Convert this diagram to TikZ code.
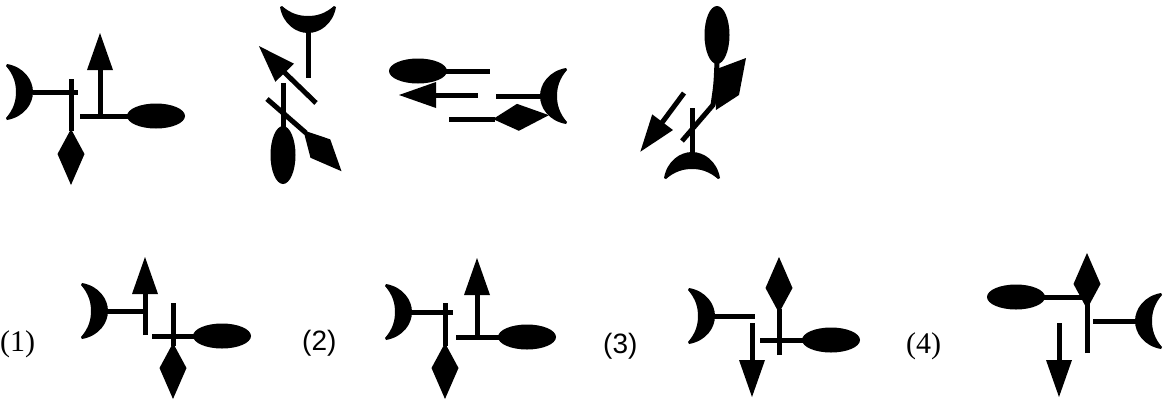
\documentclass[tikz,border=0pt]{standalone}
\usepackage{fontspec}
\usepackage{tikz}
\newfontfamily\labelsans{Liberation Sans}
\newfontfamily\labelserif{Liberation Serif}

\begin{document}
\begin{tikzpicture}[
    x=1pt, y=-1pt,
    stick/.style={line width=5pt},
    moon/.pic={
      \fill (26,-28) .. controls (9,-25) and (0,-12) .. (0,0)
        .. controls (0,12) and (9,25) .. (26,28)
        .. controls (27,27) .. (27,26)
        .. controls (19,17) and (17,8) .. (17,0)
        .. controls (17,-8) and (19,-17) .. (27,-26)
        .. controls (27,-27) .. (26,-28) -- cycle;
    },
    head/.pic={\fill (-1,-13) -- (36,0) -- (-1,13) -- cycle;},
    kite/.pic={\fill (-1,0) -- (24,-13.5) -- (55,0) -- (24,13.5) -- cycle;},
    oval/.pic={\fill (29,0) ellipse [x radius=29, y radius=12.5];},
    every node/.style={
      inner sep=0pt,
      anchor=base west,
      font=\fontsize{28}{32}\selectfont
    }
]
  \useasboundingbox (0,0) rectangle (1165,405);

  % the given figure and its three turned copies
  \draw[stick] (33,92) -- (78,92);
  \draw[stick] (71,79) -- (71,131);
  \pic[rotate=180] at (33,92) {moon};
  \pic[rotate=270] at (71,130) {kite};
  \draw[stick] (100,116) -- (100,68);
  \pic[rotate=90] at (100,69) {head};
  \draw[stick] (80,116) -- (128,116);
  \pic at (127,116) {oval};

  \pic[rotate=90] at (308,33) {moon};
  \draw[stick] (308,32) -- (308,78);
  \draw[stick] (316,103) -- (283,71);
  \pic[rotate=134] at (284,72) {head};
  \draw[stick] (283,83) -- (283,128);
  \pic[rotate=270] at (283,126) {oval};
  \draw[stick] (267,99) -- (306,133);
  \pic[rotate=-47] at (304,131) {kite};

  \pic[rotate=180] at (447,71) {oval};
  \draw[stick] (446,71) -- (490,71);
  \pic[rotate=180] at (435,95) {head};
  \draw[stick] (434,95) -- (478,95);
  \pic at (540,96) {moon};
  \draw[stick] (496,96) -- (541,96);
  \pic[rotate=4] at (494,119) {kite};
  \draw[stick] (449,119) -- (495,119);

  \pic[rotate=90] at (717,64) {oval};
  \draw[stick, line join=round] (717,62) .. controls (716,85) .. (713,105) -- (682,141);
  \fill (714,70) -- (746,58) -- (739,95) -- (716,110) -- cycle;
  \draw[stick] (692,108) -- (692,153);
  \pic[rotate=270] at (692,152) {moon};
  \draw[stick] (684,93) -- (661,124);
  \pic[rotate=233] at (662,123) {head};

  % the four answers
  \node (one) at (0,351) {\labelserif\fontsize{30}{34}\selectfont (1)};
  \pic[rotate=180] at (108,311) {moon};
  \draw[stick] (107,311) -- (147,311);
  \draw[stick] (145,335) -- (145,292);
  \pic[rotate=90] at (145,293) {head};
  \draw[stick] (173,303) -- (173,346);
  \pic[rotate=270] at (173,344) {kite};
  \draw[stick] (152,336) -- (194,336);
  \pic at (193,336) {oval};

  \node (two) at (302,350) {\labelsans (2)};
  \pic[rotate=180] at (412,312) {moon};
  \draw[stick] (411,312) -- (453,312);
  \draw[stick] (445,303) -- (445,346);
  \pic[rotate=270] at (445,344) {kite};
  \draw[stick] (477,337) -- (477,292);
  \pic[rotate=90] at (477,294) {head};
  \draw[stick] (456,337) -- (500,337);
  \pic at (498,337) {oval};

  \node (three) at (603,353) {\labelsans (3)};
  \pic[rotate=180] at (715,316) {moon};
  \draw[stick] (714,316) -- (755,316);
  \draw[stick] (752,323) -- (752,363);
  \pic[rotate=270] at (752,361) {head};
  \draw[stick] (779,355) -- (779,309);
  \pic[rotate=90] at (779,312) {kite};
  \draw[stick] (760,340) -- (804,340);
  \pic at (802,340) {oval};

  \node (four) at (906,353) {\labelserif\fontsize{30}{34}\selectfont (4)};
  \pic[rotate=180] at (1045,297) {oval};
  \draw[stick] (1044,297) -- (1087,297);
  \draw[stick] (1087,353) -- (1087,303);
  \pic[rotate=90] at (1087,308) {kite};
  \draw[stick] (1093,321) -- (1136,321);
  \pic at (1135,321) {moon};
  \draw[stick] (1059,323) -- (1059,363);
  \pic[rotate=270] at (1059,361) {head};

\end{tikzpicture}
\end{document}
